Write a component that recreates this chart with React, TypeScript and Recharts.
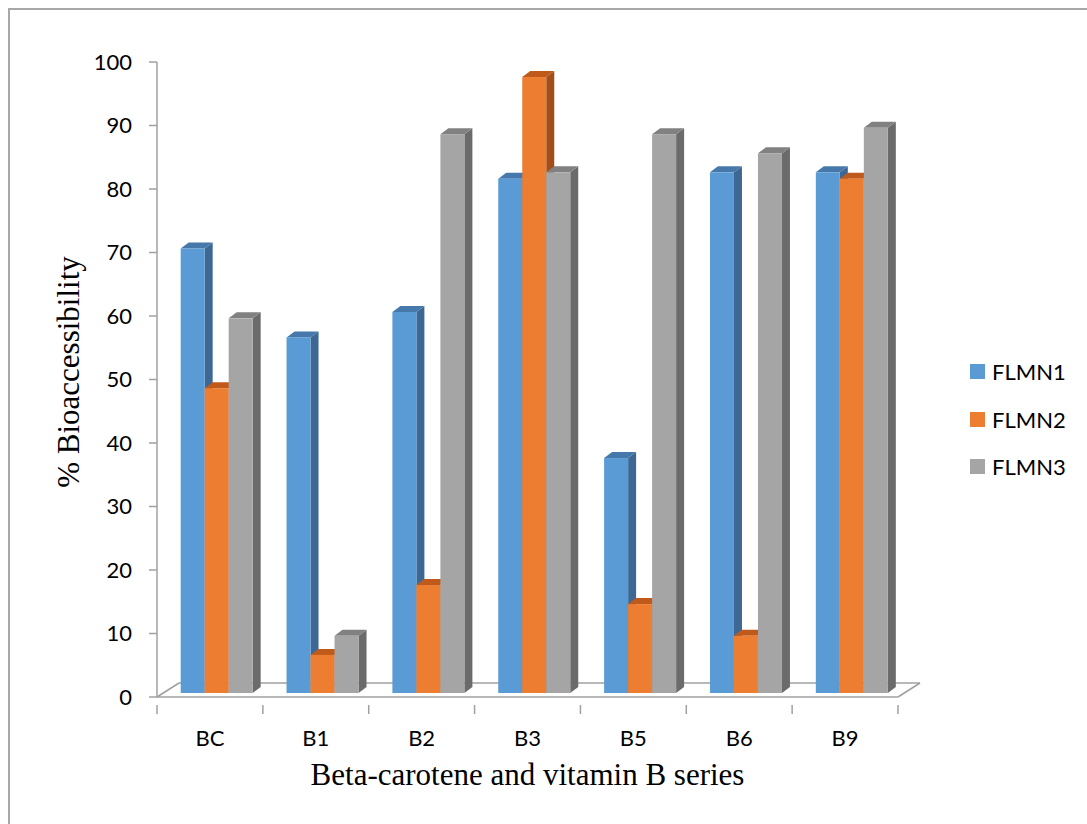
import React from 'react';
import {
  BarChart, Bar, XAxis, YAxis, Customized
} from 'recharts';

const categories = ['BC', 'B1', 'B2', 'B3', 'B5', 'B6', 'B9'];
const flmn1 = [70, 56, 60, 81, 37, 82, 82];
const flmn2 = [48, 6, 17, 97, 14, 9, 81];
const flmn3 = [59, 9, 88, 82, 88, 85, 89];
const yTicks = [0, 10, 20, 30, 40, 50, 60, 70, 80, 90, 100];

const seriesNames = ['FLMN1', 'FLMN2', 'FLMN3'];

const data = categories.map((name, i) => ({
  name,
  FLMN1: flmn1[i],
  FLMN2: flmn2[i],
  FLMN3: flmn3[i],
}));

// front / top / side face colours for each series
const faces: Record<string, { front: string; top: string; side: string }> = {
  FLMN1: { front: '#5B9BD5', top: '#4678AC', side: '#3C6893' },
  FLMN2: { front: '#ED7D31', top: '#C05A1B', side: '#A24E1B' },
  FLMN3: { front: '#A5A5A5', top: '#818181', side: '#6B6B6B' },
};

const WIDTH = 1087;
const HEIGHT = 824;
const MARGIN = { top: 62, right: 189, bottom: 67, left: 97 };
const Y_AXIS_W = 60;
const X_AXIS_H = 60;
const PLOT_LEFT = MARGIN.left + Y_AXIS_W;
const PLOT_RIGHT = WIDTH - MARGIN.right;
const PLOT_BOTTOM = HEIGHT - MARGIN.bottom - X_AXIS_H;
const BAND = (PLOT_RIGHT - PLOT_LEFT) / categories.length;

// 3d projection of the floor and the bar boxes
const FLOOR_DX = 22;
const FLOOR_DY = 14;
const BAR_SHIFT_X = 6;
const BAR_SHIFT_Y = -4;
const DEPTH_X = 8;
const DEPTH_Y = 6;

const AXIS_GRAY = '#A0A0A0';
const SANS = 'Lato, "Open Sans", sans-serif';
const SERIF = '"Liberation Serif", "Times New Roman", serif';

const Box3D = (props: any) => {
  const { x, y, width, height, dataKey } = props;
  if (height == null || height <= 0) return null;
  const c = faces[dataKey];
  const fx = x + BAR_SHIFT_X;
  const fy = y + BAR_SHIFT_Y;
  const top = `${fx},${fy} ${fx + width},${fy} ${fx + width + DEPTH_X},${fy - DEPTH_Y} ${fx + DEPTH_X},${fy - DEPTH_Y}`;
  const side = `${fx + width},${fy} ${fx + width + DEPTH_X},${fy - DEPTH_Y} ${fx + width + DEPTH_X},${fy + height - DEPTH_Y} ${fx + width},${fy + height}`;
  return (
    <g>
      <polygon points={side} fill={c.side} />
      <polygon points={top} fill={c.top} />
      <rect x={fx} y={fy} width={width} height={height} fill={c.front} />
    </g>
  );
};

const Floor = () => (
  <g stroke={AXIS_GRAY} strokeWidth={1.5} fill="none">
    <line x1={PLOT_LEFT} y1={PLOT_BOTTOM} x2={PLOT_LEFT + FLOOR_DX} y2={PLOT_BOTTOM - FLOOR_DY} />
    <line x1={PLOT_LEFT + FLOOR_DX} y1={PLOT_BOTTOM - FLOOR_DY} x2={PLOT_RIGHT + FLOOR_DX} y2={PLOT_BOTTOM - FLOOR_DY} />
    <line x1={PLOT_RIGHT} y1={PLOT_BOTTOM} x2={PLOT_RIGHT + FLOOR_DX} y2={PLOT_BOTTOM - FLOOR_DY} />
  </g>
);

const CategoryTick = (props: any) => {
  const { x, y, payload, index } = props;
  const last = index === categories.length - 1;
  return (
    <g>
      <line x1={x - BAND / 2} y1={y} x2={x - BAND / 2} y2={y + 9} stroke={AXIS_GRAY} strokeWidth={1.5} />
      {last && (
        <line x1={x + BAND / 2} y1={y} x2={x + BAND / 2} y2={y + 9} stroke={AXIS_GRAY} strokeWidth={1.5} />
      )}
      <text x={x} y={y + 41} textAnchor="middle" fontFamily={SANS} fontSize={22} fill="#000">
        {payload.value}
      </text>
    </g>
  );
};

// legend sits to the right of the floor, outside the plot
const SeriesLegend = () => (
  <div style={{ position: 'absolute', left: 970, top: 348 }}>
    {seriesNames.map((s) => (
      <div key={s} style={{ display: 'flex', alignItems: 'center', height: 47.5 }}>
        <span style={{ width: 15, height: 15, background: faces[s].front, marginRight: 7, display: 'inline-block' }} />
        <span style={{ fontFamily: SANS, fontSize: 22, color: '#000' }}>{s}</span>
      </div>
    ))}
  </div>
);

export default function App() {
  return (
    <div style={{ position: 'fixed', left: 0, top: 0, width: WIDTH, height: HEIGHT, overflow: 'hidden', background: '#fff' }}>
      <div
        style={{
          position: 'absolute', left: 8, top: 8, width: WIDTH, height: HEIGHT,
          borderTop: '2px solid #A8A8A8', borderLeft: '2px solid #A8A8A8',
        }}
      />
      <div style={{ position: 'absolute', left: 0, top: 0 }}>
        <BarChart
          width={WIDTH}
          height={HEIGHT}
          data={data}
          margin={MARGIN}
          barGap={0}
          barCategoryGap="16.7%"
        >
          <Customized component={<Floor />} />
          <XAxis
            dataKey="name"
            height={X_AXIS_H}
            axisLine={{ stroke: AXIS_GRAY, strokeWidth: 1.5 }}
            tickLine={false}
            tick={<CategoryTick />}
            interval={0}
            label={{
              content: () => (
                <text x={(PLOT_LEFT + PLOT_RIGHT) / 2} y={785} textAnchor="middle" fontFamily={SERIF} fontSize={31} fill="#000">
                  Beta-carotene and vitamin B series
                </text>
              ),
            }}
          />
          <YAxis
            width={Y_AXIS_W}
            domain={[0, 100]}
            ticks={yTicks}
            interval={0}
            axisLine={{ stroke: AXIS_GRAY, strokeWidth: 1.5 }}
            tickLine={{ stroke: AXIS_GRAY, strokeWidth: 1.5 }}
            tickSize={8}
            tickMargin={17}
            tick={{ fontFamily: SANS, fontSize: 22, fill: '#000' }}
            label={{
              content: () => (
                <text x={79} y={372} transform="rotate(-90, 79, 372)" textAnchor="middle" fontFamily={SERIF} fontSize={31} fill="#000">
                  % Bioaccessibility
                </text>
              ),
            }}
          />
          {seriesNames.map((s) => (
            <Bar
              key={s}
              dataKey={s}
              name={s}
              fill={faces[s].front}
              shape={<Box3D />}
              isAnimationActive={false}
            />
          ))}
        </BarChart>
      </div>
      <SeriesLegend />
    </div>
  );
}
